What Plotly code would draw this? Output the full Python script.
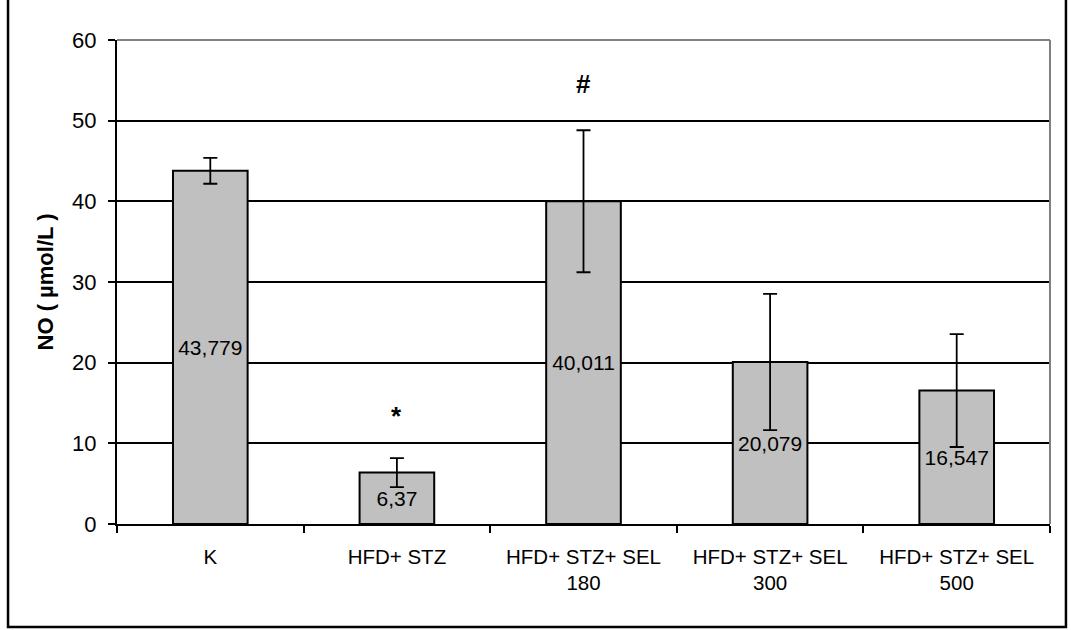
import plotly.graph_objects as go

categories = ["K", "HFD+ STZ", "HFD+ STZ+ SEL<br>180", "HFD+ STZ+ SEL<br>300", "HFD+ STZ+ SEL<br>500"]
values = [43.779, 6.37, 40.011, 20.079, 16.547]
errors = [1.6, 1.8, 8.8, 8.45, 7.0]
value_labels = ["43,779", "6,37", "40,011", "20,079", "16,547"]
sig_marks = ["*", "#"]
sig_cats = [categories[1], categories[2]]
sig_y = [13.4, 54.5]
y_ticks = [0, 10, 20, 30, 40, 50, 60]

FONT = "Arial, Liberation Sans, sans-serif"

fig = go.Figure()
fig.add_trace(go.Bar(
    x=categories, y=values,
    width=0.4,
    marker=dict(color="#C0C0C0", line=dict(color="black", width=2)),
    error_y=dict(type="data", array=errors, visible=True, color="black", thickness=1.8, width=7),
    text=value_labels, textposition="inside", insidetextanchor="middle",
    constraintext="none",
    textangle=0, textfont=dict(family=FONT, size=21, color="black"),
    cliponaxis=False, showlegend=False,
))

for m, c, yv in zip(sig_marks, sig_cats, sig_y):
    fig.add_annotation(x=c, y=yv, text="<b>%s</b>" % m, showarrow=False,
                       font=dict(family=FONT, size=26, color="black"))

# plot area border (gray top/right)
fig.add_shape(type="line", xref="paper", yref="paper", x0=0, x1=1, y0=1, y1=1,
              line=dict(color="#808080", width=2))
fig.add_shape(type="line", xref="paper", yref="paper", x0=1, x1=1, y0=0, y1=1,
              line=dict(color="#808080", width=2))
# outer chart border
fig.add_shape(type="rect", xref="paper", yref="paper",
              x0=-0.1168, x1=1.0171, y0=-0.2128, y1=1.12,
              line=dict(color="black", width=2.5), fillcolor="rgba(0,0,0,0)", layer="below")

fig.update_layout(
    width=1071, height=630,
    margin=dict(l=117, r=21, t=40, b=106),
    paper_bgcolor="white", plot_bgcolor="white",
    font=dict(family=FONT, size=20, color="black"),
    bargap=0.6,
)
fig.update_xaxes(
    type="category",
    showline=True, linecolor="black", linewidth=2,
    ticks="outside", ticklen=7, tickwidth=2, tickcolor="black",
    tickson="boundaries", showgrid=False,
    tickfont=dict(family=FONT, size=20.5, color="black"),
    ticklabelstandoff=13,
)
fig.update_yaxes(
    range=[0, 60], tickvals=y_ticks,
    showline=True, linecolor="black", linewidth=2,
    ticks="outside", ticklen=7, tickwidth=2, tickcolor="black",
    showgrid=True, gridcolor="black", gridwidth=1.5,
    zeroline=False,
    tickfont=dict(family=FONT, size=22, color="black"),
    ticklabelstandoff=7,
    title=dict(text="<b>NO ( µmol/L )</b>", font=dict(family=FONT, size=22, color="black"), standoff=12),
)

fig.write_html("out.html")
